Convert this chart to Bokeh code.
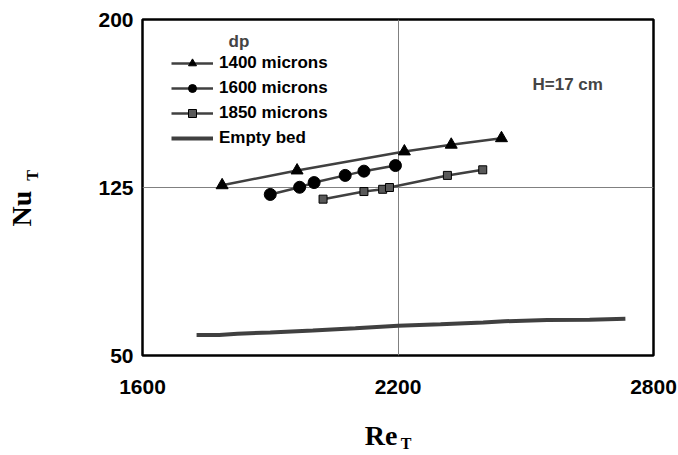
from bokeh.plotting import figure
from bokeh.models import Range1d, FixedTicker, Label, Legend, LegendItem, LinearAxis
from bokeh.embed import file_html
from bokeh.resources import INLINE

# Data (Re_T, Nu_T)
re_1400 = [1787, 1963, 2215, 2325, 2443]
nu_1400 = [126.0, 132.6, 141.1, 144.1, 147.0]

re_1600 = [1900, 1969, 2003, 2076, 2120, 2194]
nu_1600 = [121.9, 125.1, 127.2, 130.4, 132.3, 134.8]

re_1850 = [2024, 2120, 2164, 2180, 2316, 2399]
nu_1850 = [119.8, 123.2, 124.2, 125.0, 130.4, 132.9]

re_empty = [1727, 1780, 1823, 1900, 2000, 2100, 2200, 2300, 2400, 2450, 2550, 2650, 2734]
nu_empty = [59.2, 59.2, 59.7, 60.3, 61.2, 62.2, 63.3, 63.9, 64.7, 65.3, 65.8, 66.0, 66.4]

x_ticks = [1600, 2200, 2800]
y_ticks = [50, 125, 200]

LINE = "#404040"
FONT = "Liberation Sans"
SERIF = "Liberation Serif"

p = figure(width=678, height=455, output_backend="svg", toolbar_location=None,
           x_range=Range1d(1600, 2800), y_range=Range1d(50, 200),
           min_border_left=142, min_border_right=25, min_border_top=19, min_border_bottom=100)
p.background_fill_color = "white"
p.border_fill_color = "white"
p.outline_line_color = "black"
p.outline_line_width = 2.5

for ax in (p.xaxis[0], p.yaxis[0]):
    ax.axis_line_color = None
    ax.major_tick_line_color = None
    ax.minor_tick_line_color = None
    ax.major_tick_out = 0
    ax.minor_tick_out = 0
    ax.major_label_text_font = FONT
    ax.major_label_text_font_style = "bold"
    ax.major_label_text_font_size = "21px"
    ax.major_label_text_color = "black"
p.xaxis[0].ticker = FixedTicker(ticks=x_ticks)
p.yaxis[0].ticker = FixedTicker(ticks=y_ticks)
p.xaxis[0].major_label_standoff = 24
p.yaxis[0].major_label_standoff = 9

p.xgrid[0].ticker = FixedTicker(ticks=x_ticks)
p.ygrid[0].ticker = FixedTicker(ticks=y_ticks)
p.xgrid[0].grid_line_color = "#808080"
p.ygrid[0].grid_line_color = "#808080"
p.xgrid[0].grid_line_width = 1
p.ygrid[0].grid_line_width = 1


def title_axis(text, size, standoff):
    a = LinearAxis(ticker=FixedTicker(ticks=[]), axis_label=text,
                   axis_line_color=None, major_tick_line_color=None, minor_tick_line_color=None,
                   major_tick_out=0, minor_tick_out=0, major_label_standoff=0,
                   axis_label_standoff=standoff, axis_label_text_font=SERIF,
                   axis_label_text_font_style="bold", axis_label_text_font_size=size,
                   axis_label_text_color="black")
    return a


# x-axis title "Re" with subscript "T" (spacing characters shift the centred labels)
p.add_layout(title_axis("Re\u2003\u2009", "28px", 23), "below")
p.add_layout(title_axis("\u2003T", "16px", -19), "below")
# y-axis title "Nu" with subscript "T"
p.add_layout(title_axis("\u2003\u2002T", "16px", 55), "left")
p.add_layout(title_axis("Nu\u2003\u2002", "28px", -16), "left")

l1 = p.line(re_1400, nu_1400, line_color=LINE, line_width=2.5)
m1 = p.scatter(re_1400, nu_1400, marker="triangle", size=12, fill_color="black", line_color="black")
l2 = p.line(re_1600, nu_1600, line_color=LINE, line_width=2.5)
m2 = p.scatter(re_1600, nu_1600, marker="circle", size=12, fill_color="black", line_color="black")
l3 = p.line(re_1850, nu_1850, line_color=LINE, line_width=2.5)
m3 = p.scatter(re_1850, nu_1850, marker="square", size=8, fill_color="#595959", line_color="black")
l4 = p.line(re_empty, nu_empty, line_color=LINE, line_width=4)

legend = Legend(items=[
    LegendItem(label="1400 microns", renderers=[l1, m1]),
    LegendItem(label="1600 microns", renderers=[l2, m2]),
    LegendItem(label="1850 microns", renderers=[l3, m3]),
    LegendItem(label="Empty bed", renderers=[l4]),
], location=(29, 207))
legend.padding = 0
legend.margin = 0
legend.spacing = 5
legend.glyph_width = 42
legend.glyph_height = 20
legend.label_height = 20
legend.label_standoff = 6
legend.border_line_color = None
legend.background_fill_alpha = 0
legend.label_text_font = FONT
legend.label_text_font_style = "bold"
legend.label_text_font_size = "17px"
legend.label_text_color = "black"
p.add_layout(legend, "center")

p.add_layout(Label(x=86, y=314, x_units="screen", y_units="screen", text="dp",
                   text_font=FONT, text_font_style="bold", text_font_size="17px",
                   text_baseline="middle"))
p.add_layout(Label(x=390, y=271, x_units="screen", y_units="screen", text="H=17 cm",
                   text_font=FONT, text_font_style="bold", text_font_size="17px",
                   text_baseline="middle"))

open("out.html", "w").write(file_html(p, INLINE))
